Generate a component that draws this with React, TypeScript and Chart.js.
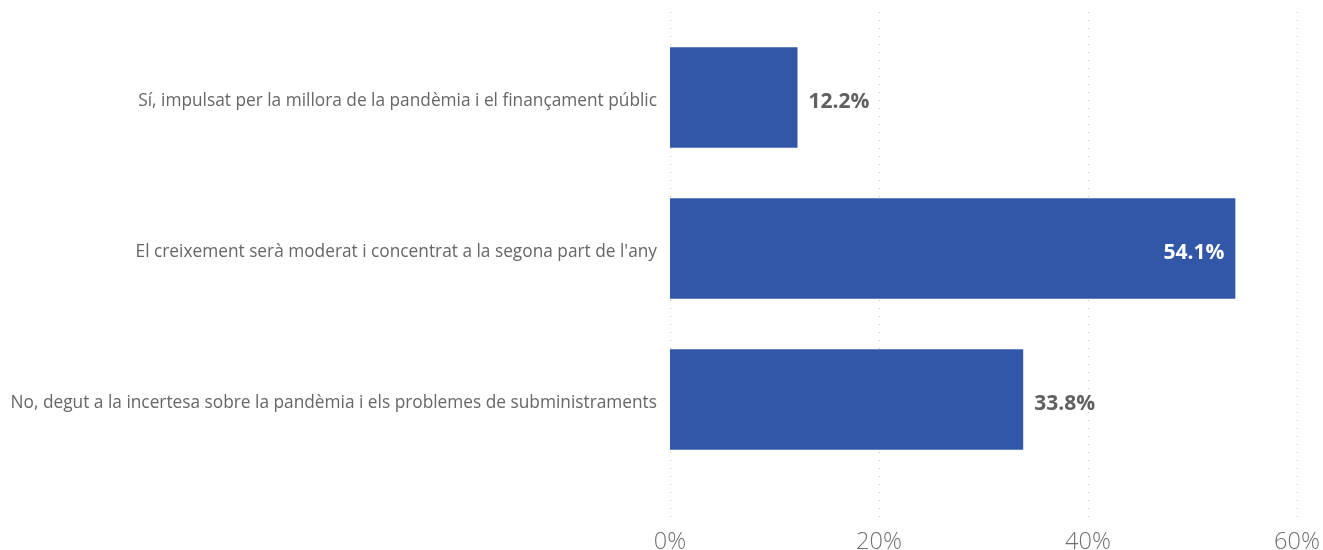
import React, { useEffect, useRef } from "react";
import { Chart, registerables } from "chart.js";

Chart.register(...registerables);

const categories = [
  "Sí, impulsat per la millora de la pandèmia i el finançament públic",
  "El creixement serà moderat i concentrat a la segona part de l'any",
  "No, degut a la incertesa sobre la pandèmia i els problemes de subministraments",
];
const values = [12.2, 54.1, 33.8];
const xTicks = [0, 20, 40, 60];

const BAR_COLOR = "#3257A8";

const gridPlugin = {
  id: "dottedGrid",
  beforeDatasetsDraw(chart: any) {
    const { ctx } = chart;
    const xs = chart.scales.x;
    ctx.save();
    ctx.strokeStyle = "#c4c4c4";
    ctx.lineWidth = 1;
    ctx.setLineDash([1, 7]);
    for (const t of xTicks) {
      const x = Math.round(xs.getPixelForValue(t)) + 0.5;
      ctx.beginPath();
      ctx.moveTo(x, 12);
      ctx.lineTo(x, 520);
      ctx.stroke();
    }
    ctx.restore();
  },
};

const labelPlugin = {
  id: "valueLabels",
  afterDatasetsDraw(chart: any) {
    const { ctx } = chart;
    const meta = chart.getDatasetMeta(0);
    ctx.save();
    ctx.font = "bold 21px 'Open Sans', sans-serif";
    ctx.textBaseline = "middle";
    meta.data.forEach((bar: any, i: number) => {
      const v = values[i];
      const txt = v.toFixed(1) + "%";
      const inside = v > 50;
      if (inside) {
        ctx.fillStyle = "#ffffff";
        ctx.textAlign = "right";
        ctx.fillText(txt, bar.x - 11, bar.y + 5);
      } else {
        ctx.fillStyle = "#606060";
        ctx.textAlign = "left";
        ctx.fillText(txt, bar.x + 11, bar.y + 5);
      }
    });
    ctx.restore();
  },
};

export default function App() {
  const ref = useRef<HTMLCanvasElement | null>(null);
  useEffect(() => {
    document.body.style.margin = "0";
    const chart = new Chart(ref.current as HTMLCanvasElement, {
      type: "bar",
      data: {
        labels: categories,
        datasets: [
          {
            data: values,
            backgroundColor: BAR_COLOR,
            barPercentage: 0.665,
            categoryPercentage: 1,
          },
        ],
      },
      options: {
        indexAxis: "y",
        animation: false,
        responsive: false,
        maintainAspectRatio: false,
        layout: { padding: { top: 22, right: 26, left: 0, bottom: 0 } },
        plugins: { legend: { display: false }, tooltip: { enabled: false } },
        scales: {
          x: {
            type: "linear",
            min: 0,
            max: 60,
            grid: { display: false },
            border: { display: false },
            afterFit(scale: any) {
              scale.height = 75;
              scale.paddingLeft = 0;
              scale.paddingRight = 0;
            },
            afterBuildTicks(scale: any) {
              scale.ticks = xTicks.map((v) => ({ value: v }));
            },
            ticks: {
              padding: 45,
              color: "#707070",
              font: { family: "'Open Sans', sans-serif", size: 23.5, weight: "300" as any },
              callback: (v: any) => v + "%",
              maxRotation: 0,
            },
          },
          y: {
            grid: { display: false },
            border: { display: false },
            afterFit(scale: any) {
              scale.width = 670;
              scale.paddingTop = 0;
              scale.paddingBottom = 0;
            },
            ticks: {
              padding: 5,
              labelOffset: 4,
              color: "#666666",
              font: { family: "'Open Sans', sans-serif", size: 17.3 },
            },
          },
        },
      },
      plugins: [gridPlugin, labelPlugin],
    });
    return () => chart.destroy();
  }, []);
  return (
    <div style={{ position: "absolute", left: 0, top: 0, width: 1323, height: 550 }}>
      <canvas ref={ref} width={1323} height={550} style={{ width: 1323, height: 550 }} />
    </div>
  );
}
